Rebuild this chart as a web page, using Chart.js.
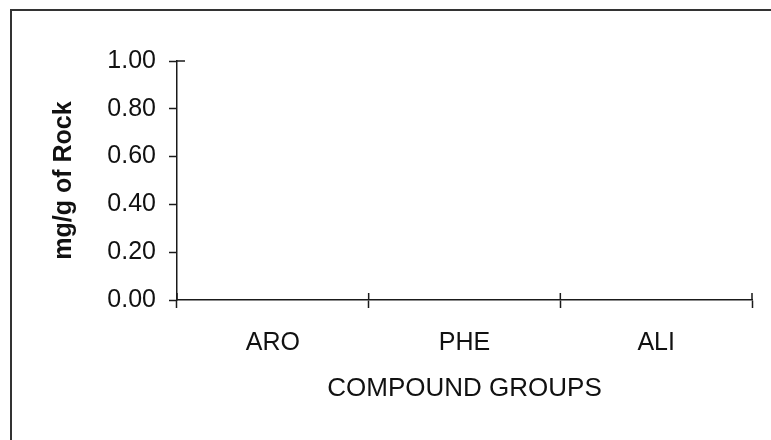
<!DOCTYPE html>
<html>
<head>
<meta charset="utf-8">
<script src="https://cdn.jsdelivr.net/npm/chart.js@4"></script>
<style>
    html, body { margin: 0; padding: 0; background: #fff; }
    #wrap { position: relative; width: 771px; height: 440px; overflow: hidden; }
    #frame { position: absolute; left: 10px; top: 9px; width: 800px; height: 500px;
             border-left: 2px solid #333; border-top: 2px solid #333; }
    canvas { position: absolute; left: 0; top: 0; }
</style>
</head>
<body>
<div id="wrap">
    <div id="frame"></div>
    <canvas id="chart" width="771" height="440"></canvas>
</div>
<script>
var groups = ["ARO", "PHE", "ALI"];
var amounts = [0, 0, 0];
var yTicks = [0, 0.2, 0.4, 0.6, 0.8, 1.0];

var ink = "#1a1a1a";
var face = "Liberation Sans, Arial, sans-serif";

// short tick marks poking inside the plot area
var innerTicks = {
    id: "innerTicks",
    afterDraw: function (chart) {
        var ctx = chart.ctx;
        var x = chart.scales.x;
        var y = chart.scales.y;
        ctx.save();
        ctx.strokeStyle = ink;
        ctx.lineWidth = 1.5;
        ctx.beginPath();
        for (var i = 0; i <= groups.length; i++) {
            var px = x.getPixelForValue(i - 0.5);
            ctx.moveTo(px, y.bottom);
            ctx.lineTo(px, y.bottom - 7);
        }
        var top = y.getPixelForValue(yTicks[yTicks.length - 1]);
        ctx.moveTo(x.left, top);
        ctx.lineTo(x.left + 8, top);
        ctx.stroke();
        ctx.restore();
    }
};

var chart = new Chart(document.getElementById("chart"), {
    type: "bar",
    data: {
        labels: groups,
        datasets: [
            {
                label: "mg/g of Rock",
                data: amounts,
                backgroundColor: "#888",
                borderColor: ink,
                borderWidth: 1
            }
        ]
    },
    plugins: [innerTicks],
    options: {
        responsive: false,
        animation: false,
        layout: { padding: { top: 61, right: 19, bottom: 0, left: 0 } },
        plugins: {
            legend: { display: false },
            tooltip: { enabled: false }
        },
        scales: {
            x: {
                offset: true,
                grid: {
                    offset: true,
                    drawOnChartArea: false,
                    tickLength: 8,
                    tickColor: ink,
                    tickWidth: 1.5
                },
                border: { color: ink, width: 1.5 },
                ticks: {
                    color: "#111",
                    padding: 20,
                    maxRotation: 0,
                    font: { family: face, size: 25 }
                },
                title: {
                    display: true,
                    text: "COMPOUND GROUPS",
                    color: "#111",
                    padding: { top: 0, bottom: 36 },
                    font: { family: face, size: 26 }
                },
                afterFit: function (scale) { scale.height = 140; }
            },
            y: {
                min: 0,
                max: 1,
                afterBuildTicks: function (scale) {
                    scale.ticks = yTicks.map(function (v) { return { value: v }; });
                },
                grid: {
                    drawOnChartArea: false,
                    tickLength: 8,
                    tickColor: ink,
                    tickWidth: 1.5
                },
                border: { color: ink, width: 1.5 },
                ticks: {
                    color: "#111",
                    padding: 13,
                    font: { family: face, size: 25 },
                    callback: function (v) { return Number(v).toFixed(2); }
                },
                title: {
                    display: true,
                    text: "mg/g of Rock",
                    color: "#111",
                    padding: { top: 49, bottom: 0 },
                    font: { family: face, size: 25, weight: "bold" }
                },
                afterFit: function (scale) { scale.width = 177; }
            }
        }
    }
});
</script>
</body>
</html>
